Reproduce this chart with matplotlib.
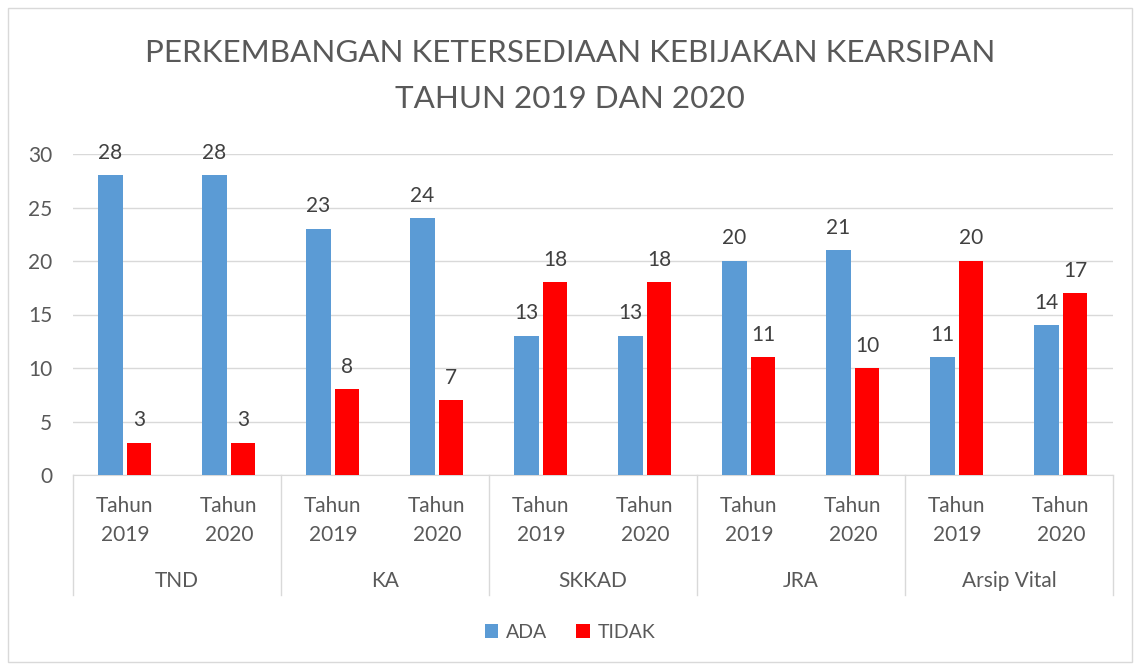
import numpy as np
import matplotlib.pyplot as plt
from matplotlib.patches import Rectangle
import matplotlib.transforms as mtransforms

plt.rcParams['font.family'] = ['Lato', 'DejaVu Sans']

groups = ['TND', 'KA', 'SKKAD', 'JRA', 'Arsip Vital']
years = ['Tahun\n2019', 'Tahun\n2020']
ada = [28, 28, 23, 24, 13, 13, 20, 21, 11, 14]
tidak = [3, 3, 8, 7, 18, 18, 11, 10, 20, 17]

blue = '#5b9bd5'
red = '#ff0000'
txt = '#595959'
grid = '#d9d9d9'

fig = plt.figure(figsize=(11.4, 6.64), dpi=100)
ax = fig.add_axes([73 / 1140, 1 - 475 / 664, 1040 / 1140, 321 / 664])

x = np.arange(len(ada))
w = 0.235
b1 = ax.bar(x - 0.14, ada, w, color=blue, label='ADA', zorder=3)
b2 = ax.bar(x + 0.135, tidak, w, color=red, label='TIDAK', zorder=3)
for bars in (b1, b2):
    for r in bars:
        ax.annotate(str(int(r.get_height())), (r.get_x() + r.get_width() / 2, r.get_height()),
                    xytext=(0, 9), textcoords='offset points', ha='center', va='bottom',
                    fontsize=15, color='#404040')

ax.set_xlim(-0.5, len(ada) - 0.5)
ax.set_ylim(0, 30)
ax.set_yticks(range(0, 31, 5))
ax.yaxis.grid(True, color=grid, lw=1, zorder=0)
for s in ['top', 'right', 'left']:
    ax.spines[s].set_visible(False)
ax.spines['bottom'].set_color(grid)
ax.tick_params(axis='y', length=0, labelsize=15, labelcolor=txt, pad=15)
ax.tick_params(axis='x', length=0, labelsize=15, labelcolor=txt, pad=15)
ax.set_xticks(x)
ax.set_xticklabels(years * len(groups), linespacing=1.55)

trans = mtransforms.blended_transform_factory(ax.transData, ax.transAxes)
for b in np.arange(-0.5, len(ada), 2):
    ax.plot([b, b], [0, -0.374], color=grid, lw=1, transform=trans, clip_on=False)
for i, g in enumerate(groups):
    ax.text(2 * i + 0.5, -0.33, g, transform=trans, ha='center', va='center',
            fontsize=15, color=txt)

fig.text(0.5, 1 - 53 / 664, 'PERKEMBANGAN KETERSEDIAAN KEBIJAKAN KEARSIPAN',
         ha='center', va='center', fontsize=22.6, color=txt)
fig.text(0.5, 1 - 99 / 664, 'TAHUN 2019 DAN 2020',
         ha='center', va='center', fontsize=22.6, color=txt)

fig.legend(loc='center', bbox_to_anchor=(0.5, 1 - 632 / 664), ncol=2, frameon=False,
           fontsize=14, labelcolor=txt, handlelength=0.7, handleheight=0.7,
           handletextpad=0.4, columnspacing=1.5)

fig.patches.append(Rectangle((8 / 1140, 2 / 664), 1124 / 1140, 654 / 664,
                             transform=fig.transFigure, fill=False, edgecolor=grid, lw=1))

fig.savefig('out.png', dpi=100)
